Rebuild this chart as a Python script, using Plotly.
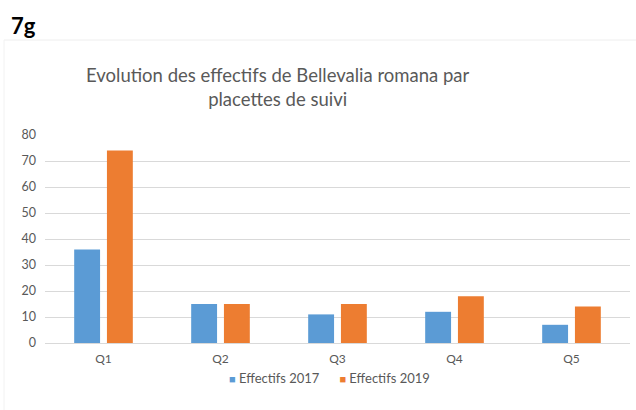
import plotly.graph_objects as go

categories = ["Q1", "Q2", "Q3", "Q4", "Q5"]
effectifs_2017 = [36, 15, 11, 12, 7]
effectifs_2019 = [74, 15, 15, 18, 14]
series_names = ["Effectifs 2017", "Effectifs 2019"]
colors = ["#5B9BD5", "#ED7D31"]
y_ticks = [0, 10, 20, 30, 40, 50, 60, 70, 80]

FONT = "Lato"
GREY = "#595959"
L, R, T, B = 45, 6, 135, 67
W, H = 636, 410
PW, PH = W - L - R, H - T - B

def px(x):
    return (x - L) / PW

def py(y):
    return (H - B - y) / PH

fig = go.Figure()
for name, vals, col in zip(series_names, [effectifs_2017, effectifs_2019], colors):
    fig.add_trace(go.Bar(x=categories, y=vals, name=name,
                         marker=dict(color=col, line=dict(width=0)), showlegend=False))

legend_text = ("&nbsp;" * 6).join(
    f'<span style="color:{c}; font-size:11px">■</span>&nbsp;{n}' for n, c in zip(series_names, colors))

fig.update_layout(
    width=W, height=H,
    margin=dict(l=L, r=R, t=T, b=B),
    paper_bgcolor="white", plot_bgcolor="white",
    barmode="group", bargap=0.44, bargroupgap=0.21,
    font=dict(family=FONT, color=GREY, size=12),
    showlegend=False,
    xaxis=dict(showgrid=False, showline=False, ticks="", ticklabelstandoff=7,
               tickfont=dict(size=12, color=GREY)),
    yaxis=dict(range=[0, 80], tickvals=y_ticks, showgrid=True, gridcolor="#d9d9d9", gridwidth=1,
               zeroline=True, zerolinecolor="#d9d9d9", zerolinewidth=1, ticklabelstandoff=8,
               tickfont=dict(size=12.5, color=GREY), ticks="", fixedrange=True),
    annotations=[
        dict(text="<b>7g</b>", xref="paper", yref="paper", x=px(9), y=py(25),
             xanchor="left", yanchor="middle", showarrow=False,
             font=dict(family=FONT, size=22, color="black")),
        dict(text="Evolution des effectifs de Bellevalia romana par<br>placettes de suivi",
             xref="paper", yref="paper", x=px(278), y=py(87), xanchor="center", yanchor="middle",
             showarrow=False, font=dict(family=FONT, size=18.5, color=GREY)),
        dict(text=legend_text, xref="paper", yref="paper", x=px(329), y=py(378),
             xanchor="center", yanchor="middle", showarrow=False,
             font=dict(family=FONT, size=13, color=GREY)),
    ],
    shapes=[
        dict(type="line", xref="paper", yref="paper", x0=px(4), x1=px(636), y0=py(40), y1=py(40),
             line=dict(color="#eeeeee", width=1)),
        dict(type="line", xref="paper", yref="paper", x0=px(4), x1=px(4), y0=py(40), y1=py(410),
             line=dict(color="#f2f2f2", width=1)),
    ],
)

fig.write_html("out.html", config={"displayModeBar": False},
               post_script="document.body.style.margin='0';document.documentElement.style.overflow='hidden';")
